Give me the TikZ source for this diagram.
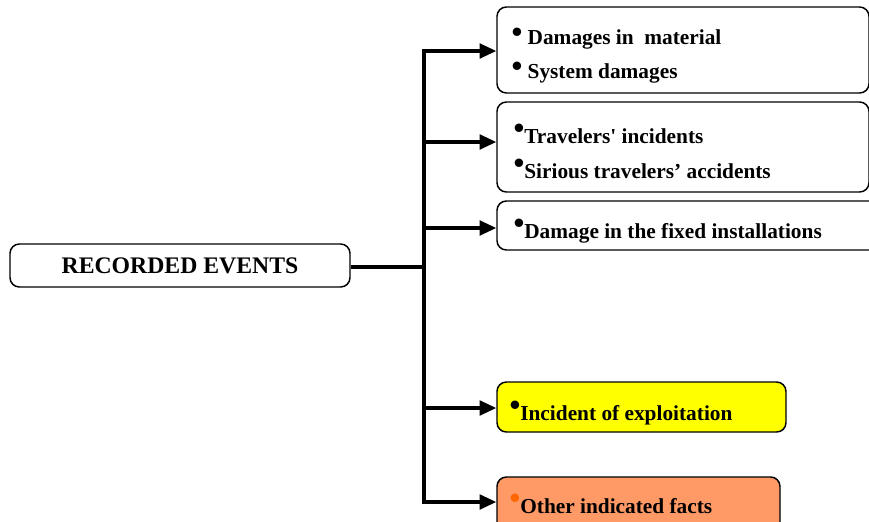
\documentclass[tikz,border=0pt]{standalone}
\usepackage{fontspec}
\setmainfont{Liberation Serif}
\usetikzlibrary{arrows.meta}

\definecolor{evyellow}{RGB}{255,255,0}
\definecolor{evorange}{RGB}{255,153,102}
\definecolor{evdot}{RGB}{255,102,0}

\newcommand{\evdot}[1][black]{\raisebox{0.2em}{\textcolor{#1}{\scalebox{1.45}{\textbullet}}}}

\tikzset{every picture/.style={line width=0.75pt}}
\tikzset{
  evbox/.style={draw, rounded corners=7pt, line width=1.1pt, inner sep=0pt},
  evlink/.style={line width=2.4pt},
  evarrow/.style={line width=2.4pt, -{Triangle[length=12.5pt,width=11pt]}},
  evtext/.style={anchor=base west, inner sep=0pt, font=\fontsize{16}{19}\selectfont\bfseries},
}

\begin{document}
\begin{tikzpicture}[x=0.75pt,y=0.75pt,yscale=-1,xscale=1]
\useasboundingbox (0,0) rectangle (869,522);
\clip (0,0) rectangle (869,522);

% Main box
\node [evbox, minimum width=255pt, minimum height=32.25pt, font=\fontsize{17.8}{20}\selectfont\bfseries] (events) at (180,265.5) {RECORDED EVENTS};

% Boxes on the right
\node [evbox, minimum width=279pt, minimum height=64.5pt] (material) at (683,50) {};
\node [evbox, minimum width=279pt, minimum height=67.5pt] (travelers) at (683,147) {};
\node [evbox, minimum width=298.5pt, minimum height=36.75pt] (fixed) at (696,225.5) {};
\node [evbox, fill=evyellow, minimum width=216.75pt, minimum height=37.5pt] (exploit) at (641.5,407) {};
\node [evbox, fill=evorange, minimum width=212.25pt, minimum height=51pt] (other) at (638.5,511) {};

% Branch points on the trunk
\coordinate (j0) at (424,267);
\coordinate (j1) at (424,51);
\coordinate (j2) at (424,142);
\coordinate (j3) at (424,228);
\coordinate (j4) at (424,408);
\coordinate (j5) at (424,502);

% Trunk
\draw [evlink] (events.east |- j0) -- (j0);
\draw [evlink, line cap=rect] (j1) -- (j5);

% Branches
\draw [evarrow] (j1) -- (j1 -| material.west);
\draw [evarrow] (j2) -- (j2 -| travelers.west);
\draw [evarrow] (j3) -- (j3 -| fixed.west);
\draw [evarrow] (j4) -- (j4 -| exploit.west);
\draw [evarrow] (j5) -- (j5 -| other.west);

% Text Node
\node [evtext] (t1) at (511,44) {\raisebox{0.06em}{\scalebox{1.45}{\textbullet}}\ Damages in~~material};
% Text Node
\node [evtext] (t2) at (511,78) {\raisebox{0.06em}{\scalebox{1.45}{\textbullet}}\ System damages};
% Text Node
\node [evtext] (t3) at (513,143) {\evdot Travelers\textquotesingle\ incidents};
% Text Node
\node [evtext] (t4) at (513,178) {\evdot Sirious travelers’ accidents};
% Text Node
\node [evtext] (t5) at (513,238) {\evdot Damage in the fixed installations};
% Text Node
\node [evtext] (t6) at (509,420) {\evdot Incident of exploitation};
% Text Node
\node [evtext] (t7) at (509,513) {\evdot[evdot]Other indicated facts};

\end{tikzpicture}
\end{document}
